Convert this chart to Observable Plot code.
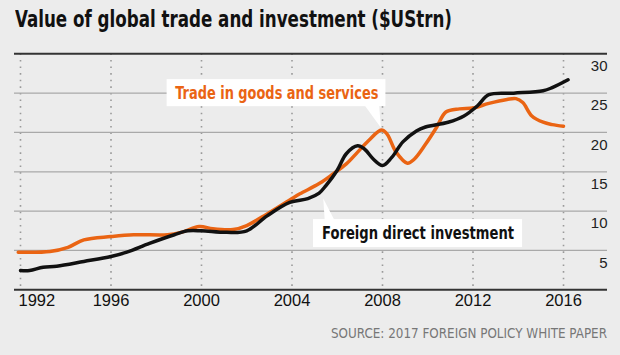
<!DOCTYPE html>
<html>
<head>
<meta charset="utf-8">
<script src="https://cdn.jsdelivr.net/npm/d3@7"></script>
<script src="https://cdn.jsdelivr.net/npm/@observablehq/plot@0.6"></script>
<style>
  html, body { margin: 0; padding: 0; background: #ececec; }
  #wrap { position: relative; width: 620px; height: 355px; background: #ececec; overflow: hidden; }
  #title { position: absolute; left: 15px; top: 6px; margin: 0; font-family: "Liberation Sans Narrow", "DejaVu Sans Condensed", "Roboto", sans-serif; font-weight: bold; font-size: 23px; color: #111; white-space: nowrap; transform-origin: 0 0; }
  #chart { position: absolute; left: 0; top: 40px; }
  #source { position: absolute; left: 331px; top: 325px; font-family: "Liberation Sans Narrow", "DejaVu Sans Condensed", sans-serif; font-size: 14.5px; color: #777; white-space: nowrap; transform-origin: 0 0; }
</style>
</head>
<body>
<div id="wrap">
  <div id="title">Value of global trade and investment ($UStrn)</div>
  <div id="chart"></div>
  <div id="source">SOURCE: 2017 FOREIGN POLICY WHITE PAPER</div>
</div>
<script>
// Trade in goods and services ($US trillion)
const tradeYears = [1991.9, 1993.3, 1994.1, 1994.8, 1996, 1997, 1998.5, 1999.1, 1999.9, 2000.5, 2001.4, 2002, 2002.9, 2004, 2004.35, 2005.2, 2005.8, 2006.4, 2006.9, 2007.4, 2007.95, 2008.2, 2008.6, 2009.1, 2009.4, 2009.9, 2010.4, 2010.8, 2011.4, 2012, 2012.7, 2013.5, 2013.9, 2014.2, 2014.6, 2015.1, 2015.5, 2016];
const tradeValues = [4.78, 4.87, 5.4, 6.35, 6.77, 7.0, 7.0, 7.3, 8.05, 7.75, 7.66, 8.17, 9.65, 11.6, 12.2, 13.5, 14.7, 16.0, 17.5, 19.0, 20.3, 19.8, 17.5, 16.1, 16.6, 18.5, 20.7, 22.6, 23.0, 23.1, 23.7, 24.2, 24.3, 23.8, 22.1, 21.3, 21.0, 20.8];
// Foreign direct investment ($US trillion)
const fdiYears = [1992, 1992.4, 1993, 1993.6, 1994.8, 1996, 1996.7, 1997.7, 1998.8, 1999.4, 2000, 2001.1, 2002, 2002.9, 2003.9, 2004.7, 2005.2, 2005.5, 2006, 2006.4, 2006.9, 2007.2, 2007.6, 2008, 2008.4, 2008.9, 2009.5, 2009.9, 2010.9, 2011.6, 2012.2, 2012.7, 2013.8, 2015.1, 2015.5, 2016.2];
const fdiValues = [2.45, 2.45, 2.87, 3.0, 3.6, 4.23, 4.78, 5.9, 7.0, 7.5, 7.5, 7.3, 7.5, 9.4, 11.1, 11.6, 12.3, 13.25, 15.2, 17.3, 18.3, 17.9, 16.6, 15.8, 16.8, 18.8, 20.2, 20.7, 21.3, 22.1, 23.4, 24.8, 25.0, 25.3, 25.7, 26.7];

const yearTicks = [1992, 1996, 2000, 2004, 2008, 2012, 2016];
const valueTicks = [5, 10, 15, 20, 25, 30];
const gridValues = [5, 10, 15, 20, 25];
const frameValues = [0, 30];

// Annotation labels (positioned in data space)
const labelNames = ["Trade in goods and services", "Foreign direct investment"];
const labelYears = [2003.33, 2009.57];
const labelValues = [25.0, 7.15];
const labelWidths = [203, 192];
const boxYear1 = [1998.48, 2004.95];
const boxYear2 = [2008.15, 2014.19];
const boxValue1 = [23.28, 5.37];
const boxValue2 = [26.72, 8.93];
const tailIds = ["t", "t", "t", "f", "f", "f"];
const tailYears = [2007.2, 2007.85, 2007.93, 2005.45, 2005.9, 2005.38];
const tailValues = [23.5, 23.5, 20.6, 8.7, 8.7, 11.6];

const trade = tradeYears.map((y, i) => ({year: y, value: tradeValues[i]}));
const fdi = fdiYears.map((y, i) => ({year: y, value: fdiValues[i]}));
const boxes = labelNames.map((n, i) => ({x1: boxYear1[i], x2: boxYear2[i], y1: boxValue1[i], y2: boxValue2[i]}));
const labels = labelNames.map((n, i) => ({name: n, year: labelYears[i], value: labelValues[i]}));
const tails = tailIds.map((id, i) => ({id, year: tailYears[i], value: tailValues[i]}));

const ORANGE = "#ea6413";
const narrow = "'Liberation Sans Narrow', 'DejaVu Sans Condensed', Roboto, sans-serif";
const regular = "'Liberation Sans', Arial, sans-serif";

const chart = Plot.plot({
  width: 620,
  height: 285,
  marginLeft: 14,
  marginRight: 13,
  marginTop: 13.3,
  marginBottom: 35.7,
  x: {domain: [1991.735, 2017.944], axis: null},
  y: {domain: [0, 30], axis: null},
  style: {background: "transparent", fontFamily: regular, color: "#111", overflow: "visible"},
  marks: [
    Plot.ruleX(yearTicks, {x: d => d, stroke: "#9a9a9a", strokeWidth: 1.6, strokeDasharray: "1.6,5"}),
    Plot.ruleY(gridValues, {y: d => d, stroke: "#a9a9a9", strokeWidth: 1.3}),
    Plot.ruleY(frameValues, {y: d => d, stroke: "#333", strokeWidth: 2}),
    Plot.rect(boxes, {x1: "x1", x2: "x2", y1: "y1", y2: "y2", fill: "white"}),
    Plot.line(tails, {x: "year", y: "value", z: "id", fill: "white", stroke: "none"}),
    Plot.line(trade, {x: "year", y: "value", stroke: ORANGE, strokeWidth: 3.5, curve: "catmull-rom"}),
    Plot.line(fdi, {x: "year", y: "value", stroke: "#111", strokeWidth: 3.5, curve: "catmull-rom"}),
    Plot.text(labels.slice(0, 1), {x: "year", y: "value", text: "name", fill: ORANGE, fontWeight: "bold", fontSize: 17, fontFamily: narrow, className: "ann"}),
    Plot.text(labels.slice(1), {x: "year", y: "value", text: "name", fill: "#111", fontWeight: "bold", fontSize: 17, fontFamily: narrow, className: "ann"}),
    Plot.text(valueTicks, {y: d => d, text: d => String(d), frameAnchor: "right", textAnchor: "end", dy: 12.5, fontSize: 15, fill: "#222"}),
    Plot.text(yearTicks.slice(1), {x: d => d, text: d => String(d), frameAnchor: "bottom", dy: 16, fontSize: 16.5, fill: "#111"}),
    Plot.text(yearTicks.slice(0, 1), {x: d => d, text: d => String(d), frameAnchor: "bottom", dy: 16, dx: -2, textAnchor: "start", fontSize: 16.5, fill: "#111"})
  ]
});
document.getElementById("chart").appendChild(chart);

// Fit annotation text to the widths of the reference
chart.querySelectorAll("text").forEach(t => {
  const i = labelNames.indexOf(t.textContent);
  if (i >= 0) {
    t.setAttribute("textLength", labelWidths[i]);
    t.setAttribute("lengthAdjust", "spacingAndGlyphs");
  }
});
// Fit title and source widths (condensed type)
function fit(id, target) {
  const el = document.getElementById(id);
  const w = el.getBoundingClientRect().width;
  if (w > 0) el.style.transform = `scaleX(${target / w})`;
}
fit("title", 437);
fit("source", 276);
</script>
</body>
</html>
